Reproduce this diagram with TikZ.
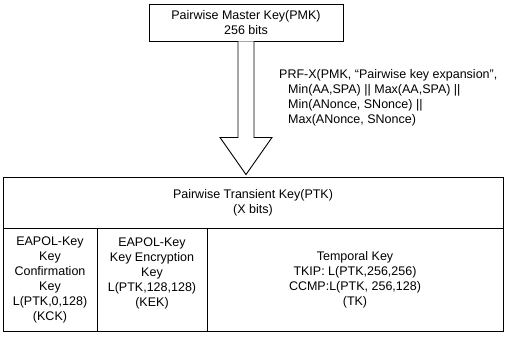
\documentclass[tikz,border=0pt]{standalone}
\usepackage{fontspec}
\setmainfont{Liberation Sans}
\usetikzlibrary{calc}
\begin{document}
\begin{tikzpicture}[x=1pt,y=-1pt,
  every node/.style={font=\fontsize{12.5}{15}\selectfont, inner sep=0pt},
  box/.style={draw, line width=0.9pt},
  txt/.style={align=center}]
\useasboundingbox (0,0) rectangle (508,343);
% PMK
\node[box, txt, minimum width=194pt, minimum height=37pt] (pmk) at (246,22.5) {Pairwise Master Key(PMK)\\256 bits};
% PTK header
\node[box, txt, minimum width=500pt, minimum height=51pt] (hdr) at (253,202.5) {Pairwise Transient Key(PTK)\\(X bits)};
% cells
\node[box, minimum width=94pt, minimum height=103pt] (kckcell) at (50,279.5) {};
\node[box, minimum width=110pt, minimum height=103pt] (kekcell) at (152,279.5) {};
\node[box, minimum width=296pt, minimum height=103pt] (tkcell) at (355,279.5) {};
\node[txt] (kck) at (kckcell.center) {EAPOL-Key\\Key\\Confirmation\\Key\\L(PTK,0,128)\\(KCK)};
\node[txt] (kek) at (152,273) {EAPOL-Key\\Key Encryption\\Key\\L(PTK,128,128)\\(KEK)};
\node[txt] (tk) at (tkcell.center) {Temporal Key\\TKIP: L(PTK,256,256)\\CCMP:L(PTK, 256,128)\\(TK)};
% arrow
\coordinate (tip) at ($(pmk.south |- hdr.north)+(0,-2)$);
\draw[box, fill=white, line join=miter]
  ($(pmk.south)+(-8,0)$) -- ($(pmk.south)+(-8,96)$) -- ($(pmk.south)+(-26,96)$)
  -- (tip) -- ($(pmk.south)+(26,96)$) -- ($(pmk.south)+(8,96)$) -- ($(pmk.south)+(8,0)$);
% PRF label
\node[anchor=west, align=left] (prf) at (279,97.5) {PRF-X(PMK, ``Pairwise key expansion'',\\
\hspace*{9pt}Min(AA,SPA) || Max(AA,SPA) ||\\
\hspace*{9pt}Min(ANonce, SNonce) ||\\
\hspace*{9pt}Max(ANonce, SNonce)};
\end{tikzpicture}
\end{document}
